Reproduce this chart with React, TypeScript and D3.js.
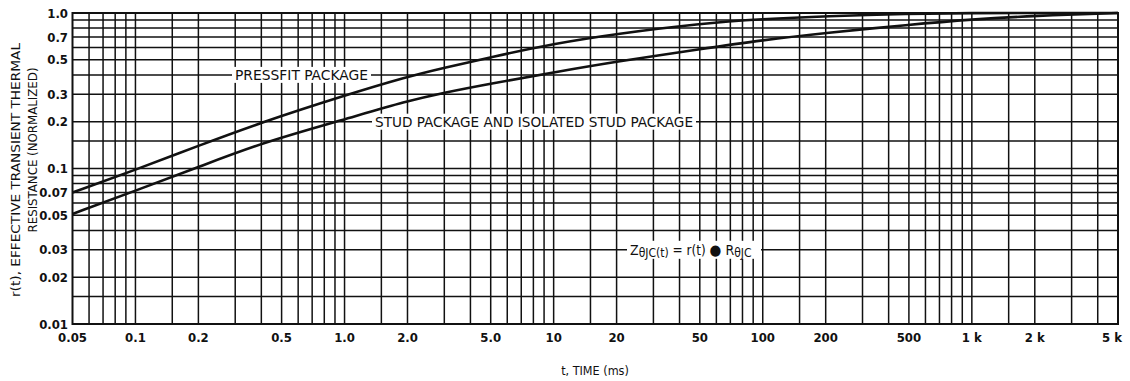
import React from "react";
import * as d3 from "d3";

// ---- data ----
const pressfitT = [0.05, 0.1, 0.2, 0.4, 1.0, 2.0, 3.0, 5.0, 10, 20, 50, 100, 200, 500, 1000, 2000, 5000];
const pressfitR = [0.07, 0.098, 0.14, 0.198, 0.295, 0.39, 0.445, 0.52, 0.635, 0.735, 0.855, 0.915, 0.955, 0.99, 1.0, 1.0, 1.0];

const studT = [0.05, 0.1, 0.2, 0.4, 1.0, 2.0, 3.0, 5.0, 10, 20, 50, 100, 200, 500, 1000, 2000, 5000];
const studR = [0.051, 0.072, 0.102, 0.146, 0.207, 0.272, 0.308, 0.352, 0.415, 0.487, 0.585, 0.67, 0.745, 0.84, 0.91, 0.96, 1.0];

const xTickValues = [0.05, 0.1, 0.2, 0.5, 1, 2, 5, 10, 20, 50, 100, 200, 500, 1000, 2000, 5000];
const xTickLabels = ["0.05", "0.1", "0.2", "0.5", "1.0", "2.0", "5.0", "10", "20", "50", "100", "200", "500", "1 k", "2 k", "5 k"];

const yTickValues = [1.0, 0.7, 0.5, 0.3, 0.2, 0.1, 0.07, 0.05, 0.03, 0.02, 0.01];
const yTickLabels = ["1.0", "0.7", "0.5", "0.3", "0.2", "0.1", "0.07", "0.05", "0.03", "0.02", "0.01"];

const gridMultipliers = [1, 1.5, 2, 3, 4, 5, 6, 7, 8, 9];
const xDecades = [0.01, 0.1, 1, 10, 100, 1000];
const yDecades = [0.01, 0.1, 1];

const seriesNames = ["PRESSFIT PACKAGE", "STUD PACKAGE AND ISOLATED STUD PACKAGE"];

const W = 1130;
const H = 381;
const X0 = 72.5;
const X1 = 1118;
const Y0 = 324;
const Y1 = 13;

const FONT = "'Liberation Sans Narrow', 'DejaVu Sans Condensed', 'Arial Narrow', 'Liberation Sans', sans-serif";

export default function App() {
  const x = d3.scaleLog().domain([0.05, 5000]).range([X0, X1]);
  const y = d3.scaleLog().domain([0.01, 1]).range([Y0, Y1]);

  const gridX: number[] = [];
  xDecades.forEach((d) => gridMultipliers.forEach((m) => {
    const v = +(d * m).toPrecision(6);
    if (v > 0.05 + 1e-9 && v < 5000 - 1e-6) gridX.push(v);
  }));
  const gridY: number[] = [];
  yDecades.forEach((d) => gridMultipliers.forEach((m) => {
    const v = +(d * m).toPrecision(6);
    if (v > 0.01 + 1e-9 && v < 1 - 1e-9) gridY.push(v);
  }));

  const line = d3
    .line<[number, number]>()
    .x((d) => x(d[0]))
    .y((d) => y(d[1]))
    .curve(d3.curveBasis);

  const pressfit = line(pressfitT.map((t, i) => [t, pressfitR[i]] as [number, number])) || "";
  const stud = line(studT.map((t, i) => [t, studR[i]] as [number, number])) || "";

  const ink = "#111";

  const pfY = y(0.4);
  const stY = y(0.2);
  const zY = y(0.03);

  return (
    <svg width={W} height={H} style={{ position: "absolute", left: 0, top: 0, background: "#fff" }}>
      <rect x={0} y={0} width={W} height={H} fill="#fff" />
      {/* grid */}
      <g stroke={ink} strokeWidth={1.5}>
        {gridX.map((v) => (
          <line key={"gx" + v} x1={x(v)} x2={x(v)} y1={Y0} y2={Y1} />
        ))}
        {gridY.map((v) => (
          <line key={"gy" + v} x1={X0} x2={X1} y1={y(v)} y2={y(v)} />
        ))}
      </g>
      {/* frame */}
      <rect x={X0} y={Y1} width={X1 - X0} height={Y0 - Y1} fill="none" stroke={ink} strokeWidth={2} />

      {/* curves */}
      <path d={pressfit} fill="none" stroke={ink} strokeWidth={2.6} />
      <path d={stud} fill="none" stroke={ink} strokeWidth={2.6} />

      {/* annotations */}
      <g fontFamily={FONT} fill={ink} fontSize={13.5}>
        <rect x={232} y={pfY - 8} width={139} height={16} fill="#fff" />
        <text x={235} y={pfY + 5} textLength={133} lengthAdjust="spacingAndGlyphs">{seriesNames[0]}</text>
        <rect x={372} y={stY - 8} width={324} height={16} fill="#fff" />
        <text x={375} y={stY + 5} textLength={318} lengthAdjust="spacingAndGlyphs">{seriesNames[1]}</text>

        <rect x={627} y={zY - 9} width={134} height={18} fill="#fff" />
        <text x={630} y={zY + 5}>
          <tspan fontSize={14}>Z</tspan>
          <tspan fontSize={12} dy={2}>θJC</tspan>
          <tspan fontSize={12}>(t)</tspan>
          <tspan fontSize={13.5} dy={-2}> = r(t) </tspan>
          <tspan fontSize={15}>●</tspan>
          <tspan fontSize={14}> R</tspan>
          <tspan fontSize={12} dy={2}>θJC</tspan>
        </text>
      </g>

      {/* y ticks */}
      <g fontFamily={FONT} fontWeight="bold" fontSize={13} fill={ink} textAnchor="end">
        {yTickValues.map((v, i) => (
          <text key={"yt" + i} x={68} y={y(v) + 4.5}>{yTickLabels[i]}</text>
        ))}
      </g>
      {/* x ticks */}
      <g fontFamily={FONT} fontWeight="bold" fontSize={13} fill={ink} textAnchor="middle">
        {xTickValues.map((v, i) => (
          <text key={"xt" + i} x={i === xTickValues.length - 1 ? x(v) - 6 : x(v)} y={342}>{xTickLabels[i]}</text>
        ))}
      </g>

      {/* axis titles */}
      <g fontFamily={FONT} fontSize={13} fill={ink} textAnchor="middle">
        <text transform={`translate(20,170) rotate(-90)`} textLength={254} lengthAdjust="spacingAndGlyphs">
          r(t), EFFECTIVE TRANSIENT THERMAL
        </text>
        <text transform={`translate(37,150) rotate(-90)`} textLength={165} lengthAdjust="spacingAndGlyphs">
          RESISTANCE (NORMALIZED)
        </text>
        <text x={595} y={375} fontSize={12.5}>t, TIME (ms)</text>
      </g>
    </svg>
  );
}
